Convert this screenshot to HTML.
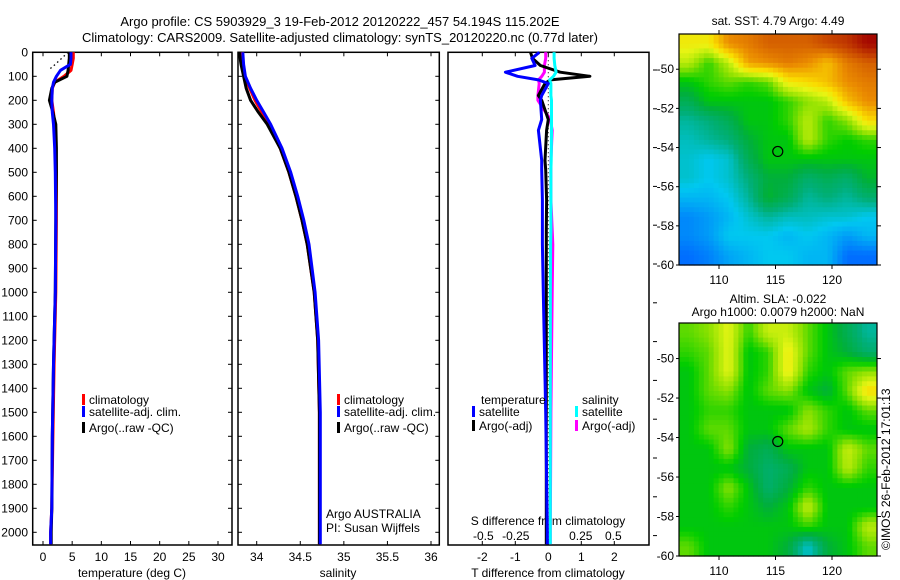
<!DOCTYPE html>
<html><head><meta charset="utf-8"><style>
body{margin:0;background:#fff;}
svg{display:block;font-family:"Liberation Sans",sans-serif;}
</style></head><body>
<svg id="c" width="900" height="580" viewBox="0 0 900 580" xmlns="http://www.w3.org/2000/svg">
<rect width="900" height="580" fill="#fff"/>
<text x="340" y="26" font-size="13" text-anchor="middle">Argo profile: CS 5903929_3 19-Feb-2012 20120222_457 54.194S 115.202E</text>
<text x="340" y="42" font-size="13" text-anchor="middle">Climatology: CARS2009. Satellite-adjusted climatology: synTS_20120220.nc (0.77d later)</text>
<g id="g"></g>
<text x="778" y="25" font-size="12" text-anchor="middle">sat. SST: 4.79 Argo: 4.49</text>
<text x="778" y="303" font-size="12" text-anchor="middle">Altim. SLA: -0.022</text>
<text x="778" y="316" font-size="12" text-anchor="middle">Argo h1000: 0.0079 h2000: NaN</text>
<text transform="translate(890,550) rotate(-90)" font-size="12">©IMOS 26-Feb-2012 17:01:13</text>
</svg>
<script>
// ---- data ----
const tDepths=[0,25,50,75,100,125,150,200,250,300,400,500,700,1000,1300,1600,1900,2000,2050];
const tClim=[5.2,5.2,5.0,4.8,3.6,2.0,1.6,1.5,1.8,2.0,2.2,2.3,2.3,2.2,1.9,1.7,1.5,1.3,1.3];
const tSat=[4.8,4.8,4.7,3.0,2.3,1.8,1.6,1.5,1.6,1.8,2.0,2.1,2.2,2.1,1.8,1.6,1.5,1.3,1.3];
const tArgo=[4.5,4.5,4.4,4.3,4.1,2.0,1.5,1.1,1.7,2.2,2.3,2.3,2.2,2.1,1.8,1.6,1.5,1.4,1.4];
const rawDepths=[0,25,50,75];
const tRaw=[4.3,3.2,2.1,0.9];
const sDepths=[0,50,100,150,200,250,300,400,500,600,700,800,1000,1200,1500,2000,2050];
const sClim=[33.83,33.84,33.86,33.92,33.98,34.06,34.14,34.27,34.37,34.45,34.52,34.58,34.66,34.70,34.72,34.72,34.72];
const sSat=[33.84,33.85,33.87,33.93,34.00,34.08,34.16,34.29,34.39,34.47,34.54,34.60,34.67,34.71,34.73,34.73,34.73];
const sArgo=[33.80,33.82,33.85,33.88,33.93,34.02,34.12,34.27,34.37,34.45,34.52,34.58,34.66,34.70,34.72,34.72,34.72];
const dDepths=[0,25,55,83,100,115,130,180,200,280,325,450,490,615,740,800,1000,1500,2000,2050];
const dTSat=[-0.27,-0.5,-0.4,-1.3,-0.93,-0.3,0,-0.2,-0.24,-0.2,-0.3,-0.2,-0.2,-0.18,-0.18,-0.18,-0.15,-0.08,-0.03,-0.03];
const dTArgo=[-0.54,-0.48,-0.24,0.36,1.26,0.06,-0.1,-0.3,-0.2,0,-0.05,-0.1,-0.08,-0.05,-0.06,-0.06,-0.06,-0.06,-0.06,-0.06];
const dSSat=[0.045,0.045,0.05,0.06,0.04,0.01,0.02,0.02,0.025,0.025,0.025,0.022,0.02,0.02,0.02,0.018,0.016,0.015,0.015,0.015];
const dSArgo=[-0.02,-0.02,-0.03,-0.03,-0.05,-0.075,-0.07,-0.08,-0.08,0.015,0.03,0.02,0.02,0.02,0.03,0.035,0.03,0.02,0.015,0.015];
const tTicks=[0,5,10,15,20,25,30];
const sTicks=[34,34.5,35,35.5,36];
const dTTicks=[-2,-1,0,1,2];
const dSTicks=[-0.5,-0.25,0,0.25,0.5];
const dSLabels=["-0.5","-0.25","0","0.25","0.5"];
const depthTicks=[0,100,200,300,400,500,600,700,800,900,1000,1100,1200,1300,1400,1500,1600,1700,1800,1900,2000];
const lonTicks=[110,115,120];
const latTicks=[-50,-52,-54,-56,-58,-60];
const sstGrid=[
[0.7,0.7,0.8,0.82,0.85,0.85,0.85,0.88,0.9,0.95],
[0.65,0.58,0.65,0.78,0.8,0.82,0.8,0.75,0.82,0.85],
[0.55,0.58,0.6,0.58,0.6,0.7,0.72,0.75,0.8,0.82],
[0.5,0.55,0.55,0.55,0.55,0.58,0.62,0.65,0.75,0.8],
[0.45,0.47,0.5,0.55,0.55,0.58,0.65,0.58,0.62,0.72],
[0.43,0.45,0.47,0.52,0.55,0.55,0.65,0.58,0.56,0.58],
[0.42,0.4,0.42,0.5,0.55,0.55,0.55,0.55,0.55,0.55],
[0.42,0.4,0.42,0.47,0.52,0.52,0.48,0.5,0.48,0.53],
[0.38,0.38,0.4,0.45,0.53,0.5,0.45,0.47,0.45,0.48],
[0.33,0.35,0.38,0.42,0.45,0.43,0.43,0.42,0.42,0.4],
[0.33,0.35,0.4,0.4,0.4,0.38,0.4,0.38,0.35,0.38],
[0.3,0.32,0.36,0.38,0.4,0.4,0.38,0.38,0.3,0.3]];
const slaGrid=[
[0.6,0.62,0.68,0.58,0.66,0.66,0.6,0.55,0.5,0.45],
[0.58,0.6,0.68,0.55,0.58,0.7,0.6,0.55,0.52,0.48],
[0.55,0.6,0.68,0.55,0.58,0.7,0.58,0.55,0.6,0.62],
[0.55,0.6,0.62,0.55,0.6,0.62,0.55,0.52,0.6,0.72],
[0.55,0.58,0.58,0.55,0.55,0.55,0.62,0.58,0.55,0.6],
[0.55,0.6,0.6,0.55,0.55,0.6,0.64,0.58,0.55,0.55],
[0.55,0.55,0.62,0.52,0.5,0.55,0.55,0.55,0.66,0.6],
[0.55,0.55,0.55,0.52,0.48,0.5,0.55,0.55,0.65,0.58],
[0.55,0.55,0.62,0.55,0.48,0.52,0.58,0.55,0.55,0.55],
[0.55,0.55,0.58,0.55,0.52,0.55,0.66,0.55,0.55,0.55],
[0.55,0.55,0.55,0.55,0.55,0.55,0.58,0.55,0.55,0.65],
[0.6,0.55,0.55,0.55,0.55,0.52,0.42,0.52,0.55,0.6]];
const argoPos=[115.2,-54.2];

// ---- helpers ----
const NS="http://www.w3.org/2000/svg";
const G=document.getElementById('g');
function mk(tag,attrs,parent){const e=document.createElementNS(NS,tag);for(const k in attrs)e.setAttribute(k,attrs[k]);(parent||G).appendChild(e);return e;}
const TOP=52.3, BOT=545;
const yD=d=>TOP+d*(532.3-52.3)/2000;
function lin(v0,p0,v1,p1){return v=>p0+(v-v0)*(p1-p0)/(v1-v0);}
const xT=lin(0,43,30,218);
const xS=lin(34,256.7,36,431);
const xDT=lin(0,548.3,2,614.3);
const xDS=lin(0,548.3,0.5,613.3);

function frame(x0,x1,name){
  const r=mk('rect',{x:x0,y:TOP,width:x1-x0,height:BOT-TOP,fill:'none',stroke:'#000','stroke-width':1.5});
  
  
}
function series(xs,ds,xf,color,w,name,dash){
  const pts=xs.map((v,i)=>xf(v).toFixed(1)+','+yD(ds[i]).toFixed(1)).join(' ');
  const a={points:pts,fill:'none',stroke:color,'stroke-width':w,'stroke-linejoin':'round'};
  if(dash)a['stroke-dasharray']=dash;
  const p=mk('polyline',a);
  
  
}
function xticks(ticks,labels,xf,x0,x1,ly,name,top){
  ticks.forEach((t,i)=>{
    const x=xf(t);
    mk('line',{x1:x,x2:x,y1:BOT,y2:BOT-4,stroke:'#000'});
    if(top)mk('line',{x1:x,x2:x,y1:TOP,y2:TOP+4,stroke:'#000'});
    const tx=mk('text',{x:x,y:ly,'font-size':12,'text-anchor':'middle'});
    tx.textContent=labels?labels[i]:String(t);
    
    
  });
}
function yticks(x0,x1,labels){
  depthTicks.forEach(d=>{
    const y=yD(d);
    mk('line',{x1:x0,x2:x0+4,y1:y,y2:y,stroke:'#000'});
    mk('line',{x1:x1,x2:x1-4,y1:y,y2:y,stroke:'#000'});
    if(labels){const t=mk('text',{x:28,y:y+4,'font-size':12,'text-anchor':'end'});t.textContent=String(d);
      
      }
  });
}
function label(x,y,txt,name,anchor){
  const t=mk('text',{x:x,y:y,'font-size':12,'text-anchor':anchor||'start'});t.textContent=txt;
  
  
}
function legend(x,y,color,txt,name){
  const r=mk('rect',{x:x,y:y-10,width:3,height:11,fill:color});
  
  
  label(x+7,y,txt,name);
}

// ---- Temperature panel ----
frame(32.7,232,'temperature-panel');
yticks(32.7,232,true);
xticks(tTicks,null,xT,32.7,232,561,'temperature-tick-label',true);
label(132,577,'temperature (deg C)','temperature-axis-title','middle');
series(tRaw,rawDepths,xT,'#000',1.3,'argo-raw-temperature','1.5,3');
series(tClim,tDepths,xT,'#f00',3,'climatology-temperature');
series(tArgo,tDepths,xT,'#000',3,'argo-temperature');
series(tSat,tDepths,xT,'#00f',3,'satellite-temperature');
legend(82,404,'#f00','climatology','legend-climatology');
legend(82,416,'#00f','satellite-adj. clim.','legend-satellite');
legend(82,432,'#000','Argo(..raw -QC)','legend-argo');

// ---- Salinity panel ----
frame(238,439.3,'salinity-panel');
yticks(238,439.3,false);
xticks(sTicks,null,xS,238,439,561,'salinity-tick-label',true);
label(338,577,'salinity','salinity-axis-title','middle');
series(sClim,sDepths,xS,'#f00',3,'climatology-salinity');
series(sArgo,sDepths,xS,'#000',3,'argo-salinity');
series(sSat,sDepths,xS,'#00f',3,'satellite-salinity');
legend(337,404,'#f00','climatology','legend-climatology-s');
legend(337,416,'#00f','satellite-adj. clim.','legend-satellite-s');
legend(337,432,'#000','Argo(..raw -QC)','legend-argo-s');
label(326,518,'Argo AUSTRALIA','float-owner');
label(326,532,'PI: Susan Wijffels','float-pi');

// ---- Difference panel ----
frame(448,649,'difference-panel');
mk('line',{x1:548.3,x2:548.3,y1:TOP,y2:BOT,stroke:'#000','stroke-dasharray':'1,3'});
for(let y=70;y<558;y+=38.8)mk('line',{x1:653,x2:657,y1:y,y2:y,stroke:'#000'});
dTTicks.forEach(t=>{const x=xDT(t);mk('line',{x1:x,x2:x,y1:TOP,y2:TOP+4,stroke:'#000'});});
xticks(dTTicks,null,xDT,448,649,561,'t-diff-tick-label',false);
label(548,577,'T difference from climatology','t-diff-axis-title','middle');
label(548,525,'S difference from climatology','s-diff-axis-title','middle');
dSTicks.forEach((t,i)=>{const tx=mk('text',{x:xDS(t),y:540,'font-size':12,'text-anchor':'middle'});tx.textContent=dSLabels[i];
  
  });
series(dSArgo,dDepths,xDS,'#f0f',3,'argo-salinity-diff');
series(dTArgo,dDepths,xDT,'#000',3,'argo-temperature-diff');
series(dSSat,dDepths,xDS,'#0ff',3,'satellite-salinity-diff');
series(dTSat,dDepths,xDT,'#00f',3,'satellite-temperature-diff');
label(481,404,'temperature','legend-temperature-heading');
legend(472,416,'#00f','satellite','legend-t-satellite');
legend(472,430,'#000','Argo(-adj)','legend-t-argo');
label(582,404,'salinity','legend-salinity-heading');
legend(575,416,'#0ff','satellite','legend-s-satellite');
legend(575,430,'#f0f','Argo(-adj)','legend-s-argo');

// ---- Maps ----
const cmStops=[[0.25,[0,60,230]],[0.3,[0,110,255]],[0.4,[0,200,240]],[0.47,[0,175,120]],[0.52,[0,175,60]],[0.56,[0,205,0]],[0.62,[140,225,0]],[0.68,[230,245,20]],[0.72,[250,220,0]],[0.8,[235,140,0]],[0.88,[200,70,0]],[0.96,[160,0,0]]];
function cmap(v){
  if(v<=cmStops[0][0])return 'rgb('+cmStops[0][1].join(',')+')';
  for(let i=1;i<cmStops.length;i++){
    if(v<=cmStops[i][0]){const a=cmStops[i-1],b=cmStops[i];const f=(v-a[0])/(b[0]-a[0]);
      return 'rgb('+a[1].map((c,k)=>Math.round(c+(b[1][k]-c)*f)).join(',')+')';}
  }
  return 'rgb('+cmStops[cmStops.length-1][1].join(',')+')';
}
function sample(grid,r,c){
  const R=grid.length,C=grid[0].length;
  r=Math.max(0,Math.min(R-1,r));c=Math.max(0,Math.min(C-1,c));
  const r0=Math.floor(r),c0=Math.floor(c),r1=Math.min(R-1,r0+1),c1=Math.min(C-1,c0+1);
  const fr=r-r0,fc=c-c0;
  return (grid[r0][c0]*(1-fc)+grid[r0][c1]*fc)*(1-fr)+(grid[r1][c0]*(1-fc)+grid[r1][c1]*fc)*fr;
}
const MX0=679,MX1=877;
const xLon=lin(110,719,120,832);
function map(grid,y0,y1,name){
  const yLat=lin(-50,y0+(y1-y0)*(1.8/11.8),-60,y1);
  const rows=grid.length,cols=grid[0].length,SUB=4;
  const cw=(MX1-MX0)/(cols*SUB),ch=(y1-y0)/(rows*SUB);
  for(let i=0;i<rows*SUB;i++)for(let j=0;j<cols*SUB;j++){
    const v=sample(grid,(i+0.5)/SUB-0.5,(j+0.5)/SUB-0.5);
    const r=mk('rect',{x:(MX0+j*cw).toFixed(1),y:(y0+i*ch).toFixed(1),width:(cw+0.6).toFixed(1),height:(ch+0.6).toFixed(1),fill:cmap(v)});
    
    
  }
  const f=mk('rect',{x:MX0,y:y0,width:MX1-MX0,height:y1-y0,fill:'none',stroke:'#000','stroke-width':1.2});
  
  
  lonTicks.forEach(l=>{const x=xLon(l);mk('line',{x1:x,x2:x,y1:y1,y2:y1+4,stroke:'#000'});mk('line',{x1:x,x2:x,y1:y0,y2:y0-4,stroke:'#000'});
    const t=mk('text',{x:x,y:y1+19,'font-size':12,'text-anchor':'middle'});t.textContent=String(l);
    
    });
  latTicks.forEach(l=>{const y=yLat(l);mk('line',{x1:MX0,x2:MX0-3,y1:y,y2:y,stroke:'#000'});mk('line',{x1:MX1,x2:MX1+4,y1:y,y2:y,stroke:'#000'});
    const t=mk('text',{x:674,y:y+4,'font-size':12,'text-anchor':'end'});t.textContent=String(l);
    
    });
  const c=mk('circle',{cx:xLon(argoPos[0]),cy:yLat(argoPos[1]),r:5,fill:'none',stroke:'#000','stroke-width':1.2});
  
  
}
map(sstGrid,34,265,'sst-map');
map(slaGrid,323,556,'sla-map');
</script>
</body></html>
